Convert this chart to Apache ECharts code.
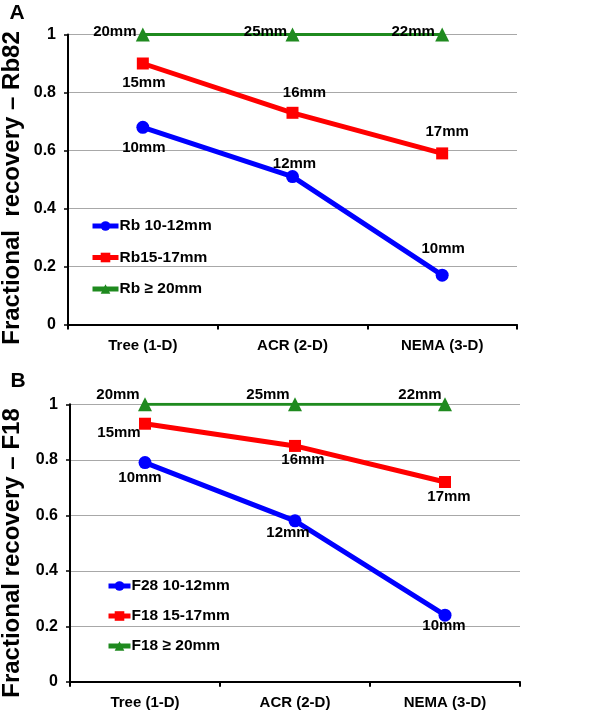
<!DOCTYPE html>
<html><head><meta charset="utf-8">
<script src="https://cdn.jsdelivr.net/npm/echarts@6/dist/echarts.min.js"></script>
<style>html,body{margin:0;padding:0;background:#fff}#c{width:615px;height:716px}</style>
</head><body><div id="c"></div>
<script>
// ---- data ----
const categories = ['Tree (1-D)', 'ACR (2-D)', 'NEMA (3-D)'];
const namesA = ['Rb 10-12mm', 'Rb15-17mm', 'Rb ≥ 20mm'];
const namesB = ['F28 10-12mm', 'F18 15-17mm', 'F18 ≥ 20mm'];
const rbSmall = [0.68, 0.51, 0.17];
const rbMid = [0.90, 0.73, 0.59];
const rbLarge = [1, 1, 1];
const fSmall = [0.79, 0.58, 0.24];
const fMid = [0.93, 0.85, 0.72];
const fLarge = [1, 1, 1];
const sizesRbSmall = ['10mm', '12mm', '10mm'];
const sizesRbMid = ['15mm', '16mm', '17mm'];
const sizesRbLarge = ['20mm', '25mm', '22mm'];
const sizesFSmall = ['10mm', '12mm', '10mm'];
const sizesFMid = ['15mm', '16mm', '17mm'];
const sizesFLarge = ['20mm', '25mm', '22mm'];

// ---- label placement (layout only) ----
const offRbSmall = [[1, 21], [2, -13], [1, -26]];
const offRbMid = [[1, 19], [12, -20], [5, -22]];
const offRbLarge = [[-28, -3], [-27, -3], [-29, -3]];
const offFSmall = [[-5, 15], [-7, 12], [-1, 11]];
const offFMid = [[-26, 9], [8, 14], [4, 15]];
const offFLarge = [[-27, -9], [-27, -9], [-25, -9]];

const FONT = 'Liberation Sans, Arial, sans-serif';
const colors = ['#0000ff', '#ff0000', '#1f8a1f'];
const symbols = ['circle', 'rect', 'triangle'];
const symSizes = [13, 12, 14];
const widths = [5, 5, 3];

function mkData(vals, texts, offs) {
  return vals.map((v, i) => ({
    value: v,
    label: { formatter: texts[i], offset: offs[i] }
  }));
}
function mkSeries(name, idx, k, vals, texts, offs) {
  return {
    type: 'line', name: name, xAxisIndex: idx, yAxisIndex: idx,
    data: mkData(vals, texts, offs),
    symbol: symbols[k], symbolSize: symSizes[k],
    itemStyle: { color: colors[k] },
    lineStyle: { color: colors[k], width: widths[k] },
    label: { show: true, position: 'inside', color: '#000', fontFamily: FONT,
      fontWeight: 'bold', fontSize: 15 },
    emphasis: { disabled: true }, animation: false, z: 3
  };
}
function xAx(idx) {
  return {
    type: 'category', gridIndex: idx, data: categories, boundaryGap: true,
    axisLine: { lineStyle: { color: '#000', width: 2 } },
    axisTick: { show: true, length: 5, lineStyle: { color: '#000', width: 2 } },
    axisLabel: { color: '#000', fontFamily: FONT, fontWeight: 'bold', fontSize: 15, margin: 14 },
    splitLine: { show: false }
  };
}
function yAx(idx) {
  return {
    type: 'value', gridIndex: idx, min: 0, max: 1, interval: 0.2,
    axisLine: { show: true, lineStyle: { color: '#000', width: 2 } },
    axisTick: { show: true, length: 4, lineStyle: { color: '#000', width: 1.5 } },
    axisLabel: { color: '#000', fontFamily: FONT, fontWeight: 'bold', fontSize: 16, margin: 12 },
    splitLine: { show: true, lineStyle: { color: '#a8a8a8', width: 1 } }
  };
}
function legend(names, left, top, gap, w) {
  return {
    data: names, orient: 'vertical', left: left, top: top, padding: 0,
    itemWidth: w, itemHeight: 12, itemGap: gap,
    lineStyle: { width: 5 },
    textStyle: { color: '#000', fontFamily: FONT, fontWeight: 'bold', fontSize: 15.5, padding: [0, 0, 0, -4] },
    selectedMode: false
  };
}

const chart = echarts.init(document.getElementById('c'), null, { renderer: 'canvas' });
chart.setOption({
  backgroundColor: '#fff',
  animation: false,
  grid: [
    { left: 68, right: 98, top: 34.5, height: 290 },
    { left: 70, right: 95, top: 404.3, height: 277.5 }
  ],
  xAxis: [xAx(0), xAx(1)],
  yAxis: [yAx(0), yAx(1)],
  legend: [
    legend(namesA, 90, 218, 15.5, 26),
    legend(namesB, 106, 578, 14, 22)
  ],
  series: [
    mkSeries(namesA[0], 0, 0, rbSmall, sizesRbSmall, offRbSmall),
    mkSeries(namesA[1], 0, 1, rbMid, sizesRbMid, offRbMid),
    mkSeries(namesA[2], 0, 2, rbLarge, sizesRbLarge, offRbLarge),
    mkSeries(namesB[0], 1, 0, fSmall, sizesFSmall, offFSmall),
    mkSeries(namesB[1], 1, 1, fMid, sizesFMid, offFMid),
    mkSeries(namesB[2], 1, 2, fLarge, sizesFLarge, offFLarge)
  ],
  graphic: [
    { type: 'text', x: 17, y: 13, style: { text: 'A', font: 'bold 21px ' + FONT, fill: '#000', align: 'center', verticalAlign: 'middle' } },
    { type: 'text', x: 18, y: 381, style: { text: 'B', font: 'bold 21px ' + FONT, fill: '#000', align: 'center', verticalAlign: 'middle' } },
    { type: 'text', x: 12, y: 188, rotation: Math.PI / 2, style: { text: 'Fractional  recovery – Rb82', font: 'bold 24px ' + FONT, fill: '#000', align: 'center', verticalAlign: 'middle' } },
    { type: 'text', x: 12, y: 553, rotation: Math.PI / 2, style: { text: 'Fractional recovery – F18', font: 'bold 24px ' + FONT, fill: '#000', align: 'center', verticalAlign: 'middle' } }
  ]
});
</script>
</body></html>
